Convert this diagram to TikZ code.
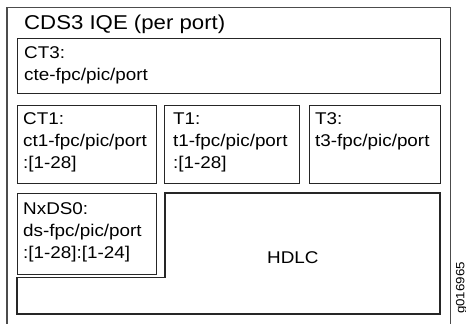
\documentclass[tikz,border=0pt]{standalone}
\usepackage{fontspec}
\setmainfont{Liberation Sans}[FakeStretch=1.11]
\begin{document}
\begin{tikzpicture}[x=1pt,y=-1pt,
  boxline/.style={draw=black!85, line width=1.2pt},
  outerline/.style={draw=black!70, line width=1.1pt},
  area/.style={boxline, rectangle, inner sep=0pt, anchor=north west},
  lbl/.style={inner sep=0pt, anchor=north west, align=left,
    font=\fontsize{17}{22}\selectfont},
  ttl/.style={inner sep=0pt, anchor=base west, font=\fontsize{20}{24}\selectfont}]
\useasboundingbox[fill=white] (0,0) rectangle (466,324);
% outer frame (open at the bottom)
\coordinate (obl) at (7,324);
\coordinate (otl) at (7,7.5);
\coordinate (otr) at (450.5,7.5);
\coordinate (obr) at (450.5,324);
\draw[outerline] (obl) -- (otl) -- (otr) -- (obr);
\node[ttl] (title) at (24,29) {CDS3 IQE (per port)};
% boxes
\node[area, minimum width=423pt, minimum height=55.5pt] (ct3) at (17,37.5) {};
\node[area, minimum width=139pt, minimum height=78pt] (ct1) at (17,105) {};
\node[area, minimum width=135pt, minimum height=78pt] (t1) at (164,105) {};
\node[area, minimum width=131pt, minimum height=78pt] (t3) at (309,105) {};
\node[area, minimum width=139pt, minimum height=80.5pt] (nxds0) at (17,193) {};
% HDLC L-shaped area
\draw[boxline] (165,193) -- (440,193) -- (440,314) -- (17,314) -- (17,277.5) -- (165,277.5) -- cycle;
% texts
\node[lbl] (ct3t) at (24,42.6) {\strut CT3:\\cte-fpc/pic/port};
\node[lbl] (ct1t) at (23,108.6) {\strut CT1:\\ct1-fpc/pic/port\\:[1-28]};
\node[lbl] (t1t) at (173,108.6) {\strut T1:\\t1-fpc/pic/port\\:[1-28]};
\node[lbl] (t3t) at (315,108.6) {\strut T3:\\t3-fpc/pic/port};
\node[lbl] (nxt) at (23,198.6) {\strut NxDS0:\\ds-fpc/pic/port\\:[1-28]:[1-24]};
\node[inner sep=0pt, anchor=base west, font=\fontsize{17}{22}\selectfont] (hdlc) at (267,263.3) {HDLC};
\node[inner sep=0pt, rotate=90, font=\fontsize{12}{14}\selectfont] (fig) at (461.5,288) {g016965};
\end{tikzpicture}
\end{document}
